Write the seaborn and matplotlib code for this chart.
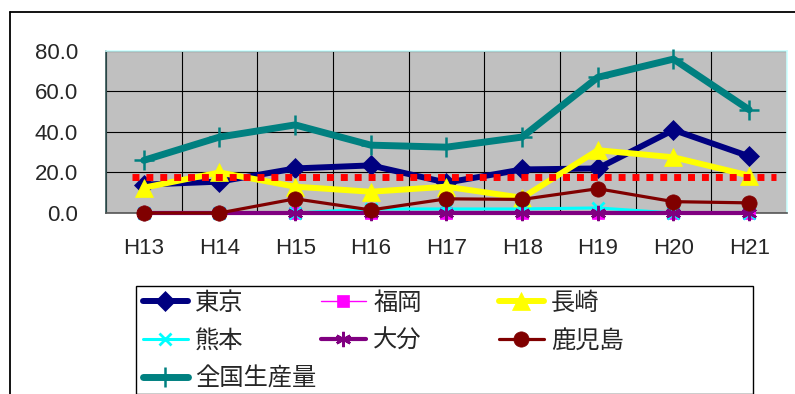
import matplotlib
matplotlib.use("Agg")
import matplotlib.pyplot as plt
from matplotlib.lines import Line2D
from matplotlib.patches import Rectangle
import numpy as np
import pandas as pd
import seaborn as sns

# Values
years = ["H13", "H14", "H15", "H16", "H17", "H18", "H19", "H20", "H21"]
tokyo = [14, 15.5, 22, 23.5, 15, 21.5, 22, 41, 28]
fukuoka = [0, 0, 0, 0, 0, 0, 0, 0, 0]
nagasaki = [12.5, 20, 13, 10.5, 13, 7.5, 31, 27.5, 18.5]
kumamoto = [0, 0, 0, 2, 2, 2, 2.5, 0, 0]
oita = [0, 0, 0, 0, 0, 0, 0, 0, 0]
kagoshima = [0, 0, 7, 1.5, 7, 6.7, 12, 5.6, 5]
zenkoku = [26, 37.5, 43.5, 33.5, 32.5, 37.5, 67, 76, 51]
average = 17.8

y_ticks = [0, 20, 40, 60, 80]

sns.set_style("white")
plt.rcParams["font.family"] = ["Liberation Sans", "Noto Sans CJK JP", "DejaVu Sans"]

series = [
    ("東京", tokyo, dict(color="#000080", lw=4.3, marker="D", ms=10)),
    ("福岡", fukuoka, dict(color="#FF00FF", lw=1.0, marker="s", ms=8)),
    ("長崎", nagasaki, dict(color="#FFFF00", lw=4.3, marker="^", ms=13)),
    ("熊本", kumamoto, dict(color="#00FFFF", lw=2.2, marker="x", ms=9, mew=2)),
    ("大分", oita, dict(color="#800080", lw=3.0, marker=(6, 2, 0), ms=11, mew=1.8)),
    ("鹿児島", kagoshima, dict(color="#800000", lw=2.3, marker="o", ms=11)),
    ("全国生産量", zenkoku, dict(color="#008080", lw=5.0, marker="+", ms=14, mew=1.8)),
]

fig = plt.figure(figsize=(7.95, 3.94), dpi=100)
ax = fig.add_axes([0.1333, 0.4594, 0.8566, 0.4112])
ax.set_facecolor("#C0C0C0")

x = np.arange(len(years))
for name, values, style in series:
    df = pd.DataFrame({"x": x, "y": values})
    sns.lineplot(data=df, x="x", y="y", ax=ax, label=name, legend=False,
                 color=style["color"], linewidth=style["lw"],
                 marker=style["marker"], markersize=style["ms"],
                 markeredgewidth=style.get("mew", 0.5),
                 markeredgecolor=style["color"], clip_on=False, zorder=3)

# dotted average line
ax.hlines(average, -0.15, len(years) - 1 + 0.35, colors="#FF0000",
          linewidth=5, linestyles=(0, (1, 1)), zorder=4)

ax.set_xlim(-0.5, len(years) - 0.5)
ax.set_ylim(0, 80)
ax.set_xticks(x)
ax.set_xticklabels(years, fontsize=16)
ax.set_xticks(np.arange(-0.5, len(years)), minor=True)
ax.set_yticks(y_ticks)
ax.set_yticklabels([f"{v:.1f}" for v in y_ticks], fontsize=16)
ax.tick_params(axis="both", which="both", length=0)
ax.tick_params(axis="y", pad=20)
ax.tick_params(axis="x", pad=18)
ax.grid(True, axis="y", which="major", color="black", linewidth=0.8)
ax.grid(True, axis="x", which="minor", color="black", linewidth=0.8)
ax.set_axisbelow(True)
ax.set_xlabel("")
ax.set_ylabel("")

ax.spines["left"].set_color("#335555")
ax.spines["bottom"].set_color("#555555")
ax.spines["top"].set_color("#CCFFFF")
ax.spines["right"].set_color("#CCFFFF")
for s in ax.spines.values():
    s.set_linewidth(1.2)

# outer chart frame (cropped on the right and bottom)
fx = 10 / 795
fy = 1 - 12 / 394
fig.add_artist(Line2D([fx, fx], [0, fy], color="black", lw=1.3, transform=fig.transFigure))
fig.add_artist(Line2D([fx, 1], [fy, fy], color="black", lw=1.3, transform=fig.transFigure))

# legend laid out in three fixed-width columns, filled row by row
handles, labels = ax.get_legend_handles_labels()
W, H = 795, 394
col_x = [140, 318, 496]
top_y = 289
for c in range(3):
    hs = handles[c::3]
    ls = labels[c::3]
    fig.legend(hs, ls, loc="upper left",
               bbox_to_anchor=(col_x[c] / W, 1 - top_y / H),
               frameon=False, fontsize=17.5, handlelength=1.85,
               handletextpad=0.3, labelspacing=0.62, borderpad=0.12,
               borderaxespad=0)
fig.add_artist(Rectangle((136 / W, 0), (753 - 136) / W, 1 - 286 / H,
                         transform=fig.transFigure, fill=False,
                         edgecolor="black", lw=1.0))

fig.savefig("out.png", dpi=100)
